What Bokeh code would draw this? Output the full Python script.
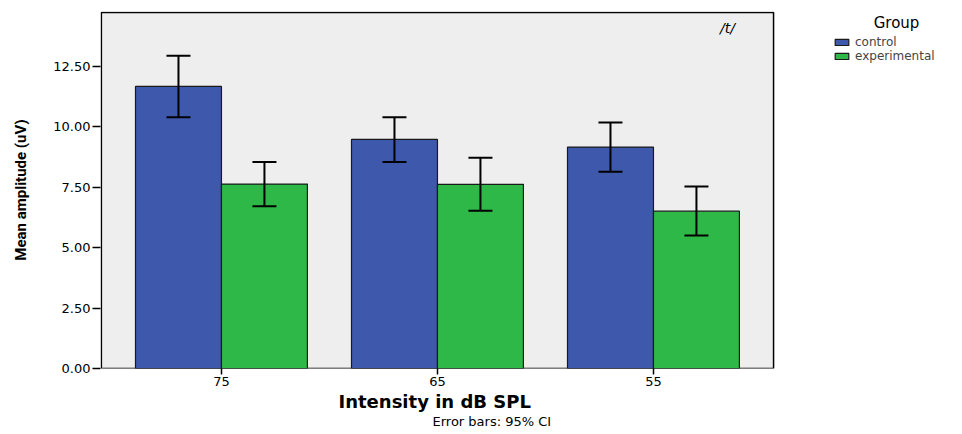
from bokeh.plotting import figure
from bokeh.models import (ColumnDataSource, Range1d, Legend, LegendItem, BoxAnnotation,
                          Whisker, TeeHead, Label, Title, FixedTicker, CustomJSTickFormatter)
from bokeh.transform import dodge
from bokeh.embed import file_html
from bokeh.resources import INLINE

intensity = ["75", "65", "55"]
control_mean = [11.67, 9.48, 9.16]
control_lo = [10.40, 8.54, 8.14]
control_hi = [12.94, 10.40, 10.18]
exp_mean = [7.63, 7.62, 6.51]
exp_lo = [6.71, 6.53, 5.50]
exp_hi = [8.54, 8.72, 7.53]
y_ticks = [0, 2.5, 5, 7.5, 10, 12.5]
y_max = 14.73

pos = [i + 1 for i in range(len(intensity))]
src = ColumnDataSource(dict(x=pos, cm=control_mean, clo=control_lo, chi=control_hi,
                            em=exp_mean, elo=exp_lo, ehi=exp_hi))

FONT = "DejaVu Sans"
PX = 216.0           # pixels per category
X0 = 0.44            # left edge of plotting frame (data units)

p = figure(width=962, height=434, output_backend="svg", toolbar_location=None,
           x_range=Range1d(X0, X0 + 862 / PX),
           y_range=Range1d(0, y_max + 1 / 24.16),
           min_border_left=100, min_border_right=0, min_border_top=11,
           min_border_bottom=66, background_fill_color="white",
           border_fill_color="white")
p.outline_line_color = None
p.grid.visible = False

# grey chart panel with black frame
panel = BoxAnnotation(left=2 - 1.556, right=2 + 1.556, bottom=0, top=y_max,
                      fill_color="#EEEEEE", fill_alpha=1, line_color="black",
                      line_width=1.5, line_alpha=1, level="underlay")
p.add_layout(panel)

W = 0.398
r1 = p.vbar(x=dodge("x", -0.199), top="cm", width=W, source=src,
            fill_color="#3E58AC", line_color="#1a1a1a", line_width=1.2)
r2 = p.vbar(x=dodge("x", 0.199), top="em", width=W, source=src,
            fill_color="#2EB848", line_color="#1a1a1a", line_width=1.2)

for off, lo, hi in [(-0.199, "clo", "chi"), (0.199, "elo", "ehi")]:
    w = Whisker(base=dodge("x", off), lower=lo, upper=hi, source=src,
                level="annotation", line_color="black", line_width=2,
                upper_head=TeeHead(size=24, line_width=2, line_color="black"),
                lower_head=TeeHead(size=24, line_width=2, line_color="black"))
    p.add_layout(w)

# axes
p.xaxis.ticker = FixedTicker(ticks=pos)
p.xaxis.major_label_overrides = {x: lab for x, lab in zip(pos, intensity)}
p.yaxis.ticker = FixedTicker(ticks=y_ticks)
p.yaxis.formatter = CustomJSTickFormatter(code="return tick.toFixed(2);")
for ax in (p.xaxis[0], p.yaxis[0]):
    ax.major_tick_out = 8
    ax.major_tick_in = 0
    ax.minor_tick_out = 0
    ax.minor_tick_in = 0
    ax.axis_line_color = None
    ax.major_tick_line_color = "black"
    ax.major_tick_line_width = 1.5
    ax.major_label_text_font = FONT
    ax.major_label_text_font_size = "13px"
    ax.major_label_text_color = "black"
p.xaxis.major_tick_out = 6
p.xaxis.major_label_standoff = 2
p.yaxis.major_label_standoff = 2
p.yaxis.axis_label = "Mean amplitude (uV)"
p.yaxis.axis_label_text_font = "Roboto"
p.yaxis.axis_label_text_font_size = "15px"
p.yaxis.axis_label_text_font_style = "bold"
p.yaxis.axis_label_text_color = "black"
p.yaxis.axis_label_standoff = 20

xtitle = Title(text="Intensity in dB SPL", align="left", offset=238,
               text_font=FONT, text_font_size="18px", text_font_style="bold",
               text_color="black", standoff=0)
p.add_layout(xtitle, "below")

note = Title(text="Error bars: 95% CI", align="left", offset=332,
             text_font=FONT, text_font_size="13px", text_font_style="normal",
             text_color="black", standoff=0)
p.add_layout(note, "below")

p.add_layout(Label(x=X0 + (727 - 100) / PX, y=14.07, text="/t/",
                   text_font=FONT, text_font_size="14px", text_font_style="italic",
                   text_align="center", text_baseline="middle", text_color="black"))

p.add_layout(Label(x=X0 + (896 - 100) / PX, y=14.3, text="Group",
                   text_font=FONT, text_font_size="15px", text_font_style="normal",
                   text_align="center", text_baseline="middle", text_color="black"))

legend = Legend(items=[LegendItem(label="control", renderers=[r1]),
                       LegendItem(label="experimental", renderers=[r2])],
                location=(733, 305),
                label_text_font=FONT, label_text_font_size="12px",
                label_height=12, glyph_height=8, glyph_width=17, spacing=0,
                label_standoff=5, padding=0, margin=0,
                background_fill_alpha=0, border_line_color=None)
p.add_layout(legend)

open("out.html", "w").write(file_html(p, INLINE))
